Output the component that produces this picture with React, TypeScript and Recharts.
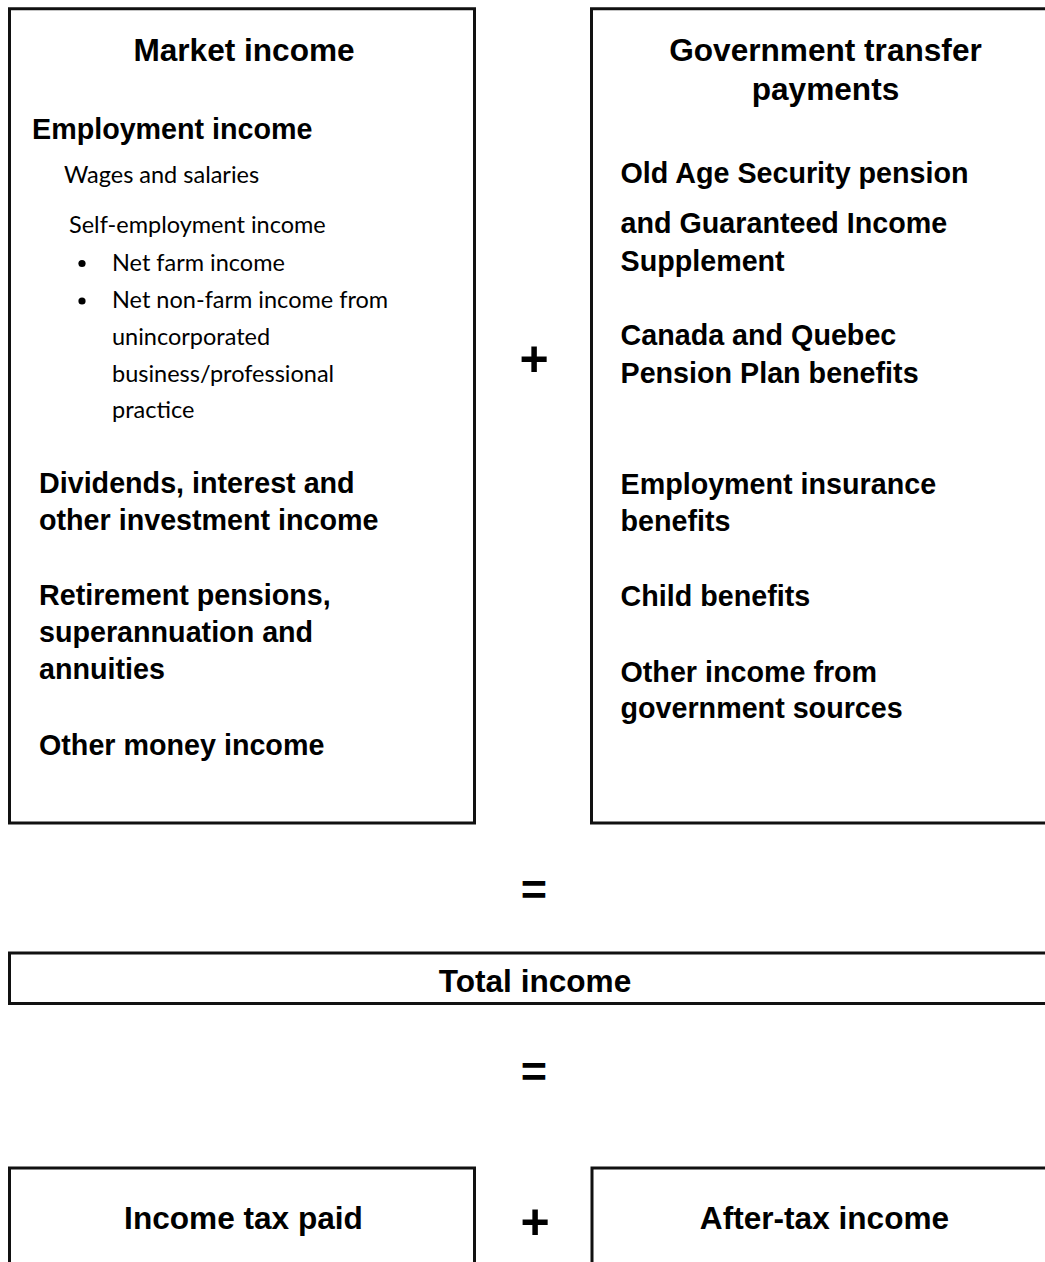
import React from "react";
import { ScatterChart, Scatter, XAxis, YAxis, ReferenceArea } from "recharts";

// ---------- content ----------
const marketTitle = ["Market income"];
const employmentHeading = ["Employment income"];
const employmentDetails = ["Wages and salaries", "Self-employment income"];
const selfEmploymentBullets = [
  ["Net farm income"],
  ["Net non-farm income from", "unincorporated", "business/professional", "practice"],
];
const marketOtherItems = [
  ["Dividends, interest and", "other investment income"],
  ["Retirement pensions,", "superannuation and", "annuities"],
  ["Other money income"],
];
const govTitle = ["Government transfer", "payments"];
const govItems = [
  ["Old Age Security pension"],
  ["and Guaranteed Income", "Supplement"],
  ["Canada and Quebec", "Pension Plan benefits"],
  ["Employment insurance", "benefits"],
  ["Child benefits"],
  ["Other income from", "government sources"],
];
const totalLabel = ["Total income"];
const bottomLabels = ["Income tax paid", "After-tax income"];
const operators = ["+", "=", "=", "+"];

// ---------- layout ----------
const W = 1045;
const H = 1262;
const BOLD = "'Liberation Sans', Arial, Helvetica, sans-serif";
const REG = "Lato, 'Open Sans', sans-serif";

const boxes = [
  { x1: 9.5, x2: 474.5, y1: 8.7, y2: 823 },
  { x1: 591.5, x2: 1080, y1: 8.7, y2: 823 },
  { x1: 9.5, x2: 1080, y1: 953, y2: 1003.5 },
  { x1: 9.5, x2: 474.5, y1: 1168, y2: 1300 },
  { x1: 592, x2: 1080, y1: 1168, y2: 1300 },
];

type Kind = "title" | "heading" | "detail" | "plus" | "equals";
type Pt = { x: number; y: number; text: string; kind: Kind };

const place = (lines: string[], x: number, ys: number[], kind: Kind): Pt[] =>
  lines.map((text, i) => ({ x, y: ys[i], text, kind }));

const styles: Record<Kind, any> = {
  title: { fontFamily: BOLD, fontWeight: 700, fontSize: 31.6, textAnchor: "middle" },
  heading: { fontFamily: BOLD, fontWeight: 700, fontSize: 28.7, textAnchor: "start" },
  detail: { fontFamily: REG, fontWeight: 400, fontSize: 23.5, textAnchor: "start" },
  plus: { fontFamily: BOLD, fontWeight: 700, fontSize: 50, textAnchor: "middle" },
  equals: { fontFamily: BOLD, fontWeight: 700, fontSize: 45, textAnchor: "middle" },
};

const textPoints: Pt[] = [
  ...place(marketTitle, 244, [61], "title"),
  ...place(employmentHeading, 32, [138.5], "heading"),
  ...place(employmentDetails.slice(0, 1), 64, [183], "detail"),
  ...place(employmentDetails.slice(1), 69, [233], "detail"),
  ...place(selfEmploymentBullets.flat(), 112, [271, 308, 345, 381.5, 418], "detail"),
  ...place(marketOtherItems.flat(), 39, [493, 530, 605, 642, 679, 755], "heading"),
  ...place(govTitle, 825.5, [60.7, 100], "title"),
  ...place(
    govItems.flat(),
    620.5,
    [182.7, 233, 270.7, 345, 382.7, 494, 530.7, 606, 681.7, 718.3],
    "heading"
  ),
  ...place(totalLabel, 535, [991.7], "title"),
  ...place(bottomLabels.slice(0, 1), 243.5, [1228.5], "title"),
  ...place(bottomLabels.slice(1), 824.5, [1228.5], "title"),
  { x: 534, y: 358 + 0.355 * 50, text: operators[0], kind: "plus" },
  { x: 534, y: 889 + 0.36 * 45, text: operators[1], kind: "equals" },
  { x: 534, y: 1071 + 0.36 * 45, text: operators[2], kind: "equals" },
  { x: 535, y: 1221 + 0.355 * 50, text: operators[3], kind: "plus" },
];

const bulletPoints = [
  { x: 82, y: 263.5 },
  { x: 82, y: 301 },
];

const TextShape = (props: any) => {
  const { cx, cy, payload } = props;
  const s = styles[payload.kind as Kind];
  return (
    <text x={cx} y={cy} fill="#000" {...s}>
      {payload.text}
    </text>
  );
};

const BulletShape = (props: any) => <circle cx={props.cx} cy={props.cy} r={3.6} fill="#000" />;

export default function App() {
  return (
    <div style={{ position: "absolute", left: 0, top: 0, width: W, height: H, background: "#fff" }}>
      <ScatterChart width={W} height={H} margin={{ top: 0, right: 0, bottom: 0, left: 0 }}>
        <XAxis type="number" dataKey="x" domain={[0, W]} hide allowDataOverflow />
        <YAxis type="number" dataKey="y" domain={[0, H]} reversed hide allowDataOverflow />
        {boxes.map((b, i) => (
          <ReferenceArea
            key={i}
            x1={b.x1}
            x2={b.x2}
            y1={b.y1}
            y2={b.y2}
            fill="#fff"
            fillOpacity={1}
            stroke="#111"
            strokeWidth={3}
            ifOverflow="visible"
          />
        ))}
        <Scatter data={bulletPoints} shape={BulletShape} isAnimationActive={false} />
        <Scatter data={textPoints} shape={TextShape} isAnimationActive={false} />
      </ScatterChart>
    </div>
  );
}
